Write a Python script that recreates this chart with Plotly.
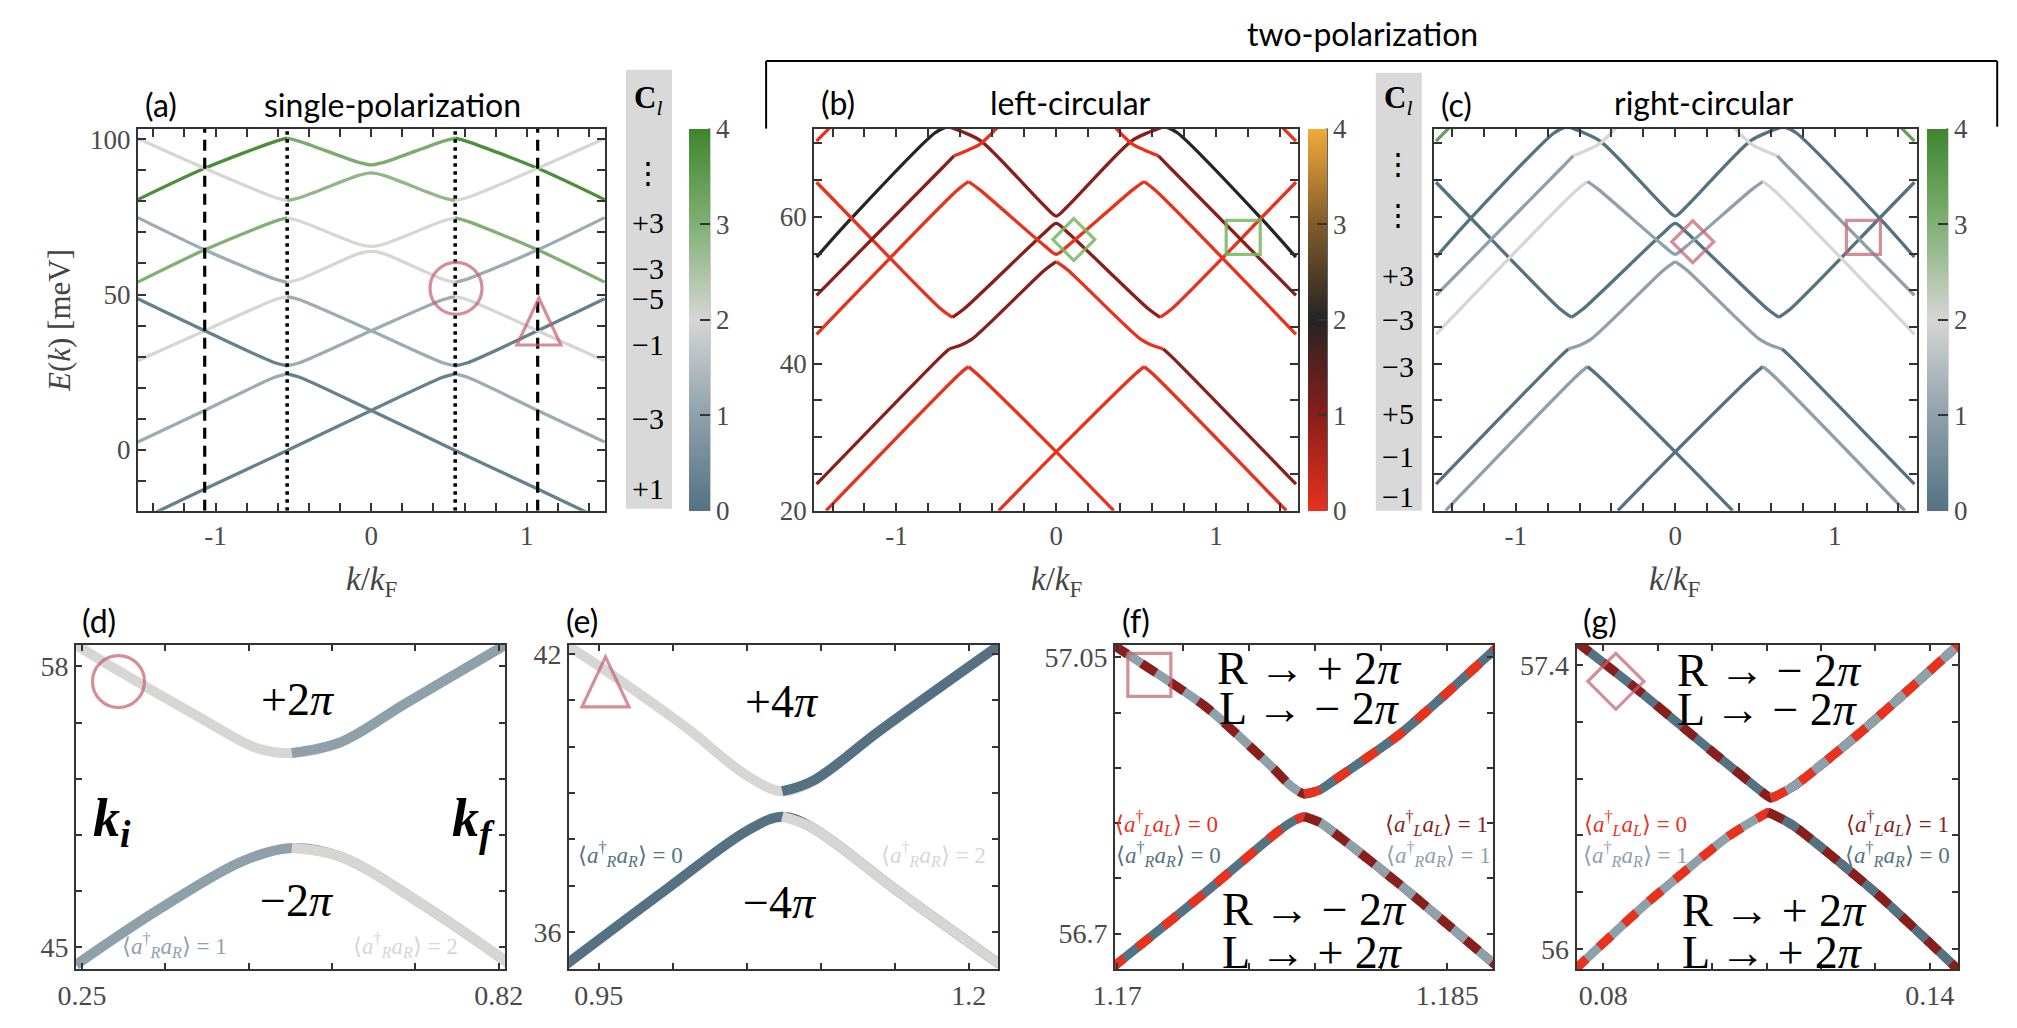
import plotly.graph_objects as go

W, H = 2017, 1028

# ======================= DATA =======================
# (a) single polarization: band segments -> (k/kF nodes, E [meV] nodes, colour value)
A_SEGMENTS = [
    ([-1.5, -1.07, -0.62, -0.54], [80.6, 90.7, 99.3, 100.4], 3.8),
    ([-0.54, -0.46, -0.08, 0, 0.08, 0.46, 0.54], [100.4, 99.4, 92.6, 91.8, 92.6, 99.4, 100.4], 3.1),
    ([0.54, 0.62, 1.07, 1.5], [100.4, 99.3, 90.7, 80.6], 3.8),
    ([-1.5, -1.07, -0.62, -0.54], [100.3, 90.7, 81.3, 80.3], 2.0),
    ([-0.54, -0.46, -0.08, 0, 0.08, 0.46, 0.54], [80.3, 81.2, 88.4, 89.2, 88.4, 81.2, 80.3], 2.8),
    ([0.54, 0.62, 1.07, 1.5], [80.3, 81.3, 90.7, 100.3], 2.0),
    ([-1.5, -1.07, -0.62, -0.54], [54.0, 64.4, 73.6, 74.7], 3.0),
    ([-0.54, -0.46, -0.08, 0, 0.08, 0.46, 0.54], [74.7, 73.7, 66.2, 65.5, 66.2, 73.7, 74.7], 2.0),
    ([0.54, 0.62, 1.07, 1.5], [74.7, 73.6, 64.4, 54.0], 3.0),
    ([-1.5, -1.07, -0.62, -0.54], [74.8, 64.4, 55.0, 53.9], 1.2),
    ([-0.54, -0.46, -0.08, 0, 0.08, 0.46, 0.54], [53.9, 54.9, 63.2, 63.9, 63.2, 54.9, 53.9], 2.0),
    ([0.54, 0.62, 1.07, 1.5], [53.9, 55.0, 64.4, 74.8], 1.2),
    ([-1.5, -1.07, -0.62, -0.54], [28.6, 38.3, 48.3, 49.3], 2.0),
    ([-0.54, -0.46, 0, 0.46, 0.54], [49.3, 48.3, 38.3, 28.0, 27.0], 1.2),
    ([0.54, 0.62, 1.07, 1.5], [27.0, 28.0, 38.3, 48.6], 0.3),
    ([-1.5, -1.07, -0.62, -0.54], [48.6, 38.3, 28.0, 27.0], 0.3),
    ([-0.54, -0.46, 0, 0.46, 0.54], [27.0, 28.0, 38.3, 48.3, 49.3], 1.2),
    ([0.54, 0.62, 1.07, 1.5], [49.3, 48.3, 38.3, 28.6], 2.0),
    ([-1.5, -1.07, -0.62, -0.54], [2.4, 12.6, 23.3, 24.4], 1.2),
    ([-0.54, -0.46, 0, 0.54, 1.07, 1.5], [24.4, 23.3, 12.6, -0.3, -12.7, -23.0], 0.3),
    ([-1.5, -1.07, -0.54, 0, 0.46, 0.54], [-23.0, -12.7, -0.3, 12.6, 23.3, 24.4], 0.3),
    ([0.54, 0.62, 1.07, 1.5], [24.4, 23.3, 12.6, 2.4], 1.2),
]
A_DASHED_K = [-1.07, 1.07]
A_DOTTED_K = [-0.54, 0.54]
A_CIRCLE = (0.545, 52.0)
A_TRIANGLE = (1.078, 41.3)

# (b)/(c) two polarizations: (k nodes, E nodes, <aL+aL> colour, <aR+aR> colour)
BC_SEGMENTS = [
    ([-1.5, -1.29, -0.76, -0.68], [54.5, 59.6, 71.4, 72.3], 2.0, 0.0),
    ([-0.68, -0.58, -0.47, -0.07, 0, 0.07, 0.47, 0.58, 0.68], [72.3, 71.5, 70.3, 61.4, 60.1, 61.4, 70.3, 71.5, 72.3], 1.0, 0.0),
    ([0.68, 0.76, 1.29, 1.5], [72.3, 71.4, 59.6, 54.5], 2.0, 0.0),
    ([-1.5, -1.29, -0.72, -0.65], [64.7, 60.0, 47.4, 46.3], 0.0, 0.0),
    ([-0.65, -0.58, -0.07, 0, 0.07, 0.58, 0.65], [46.3, 47.4, 57.9, 59.1, 57.9, 47.4, 46.3], 1.0, 0.0),
    ([0.65, 0.72, 1.29, 1.5], [46.3, 47.4, 60.0, 64.7], 0.0, 0.0),
    ([-1.5, -0.62, -0.55], [44.0, 63.6, 64.8], 0.0, 2.0),
    ([-0.55, -0.48, -0.07, 0, 0.07, 0.48, 0.55], [64.8, 63.7, 56.0, 54.9, 56.0, 63.7, 64.8], 0.0, 1.0),
    ([0.55, 0.62, 1.5], [64.8, 63.6, 44.0], 0.0, 2.0),
    ([-1.5, -0.73, -0.67], [23.6, 40.8, 42.0], 1.0, 0.0),
    ([-0.67, -0.6, -0.53, -0.07, 0], [42.0, 42.5, 43.3, 52.8, 53.9], 1.0, 1.0),
    ([0, 0.07, 0.53, 0.6, 0.67], [53.9, 52.8, 43.3, 42.5, 42.0], 0.0, 1.0),
    ([0.67, 0.73, 1.5], [42.0, 40.8, 23.6], 1.0, 0.0),
    ([-1.44, -0.61, -0.55], [20.0, 38.5, 39.6], 0.0, 1.0),
    ([-0.55, -0.49, 0, 0.36], [39.6, 38.5, 28.0, 20.0], 0.0, 0.0),
    ([-0.36, 0, 0.49, 0.55], [20.0, 28.0, 38.5, 39.6], 0.0, 0.0),
    ([0.55, 0.61, 1.44], [39.6, 38.5, 20.0], 0.0, 1.0),
    ([-1.5, -0.72, -0.64], [49.3, 66.5, 68.3], 1.0, 1.0),
    ([-0.64, -0.55, -0.47, -0.35], [68.3, 69.1, 70.0, 72.6], 0.0, 2.0),
    ([0.35, 0.47, 0.55, 0.64], [72.6, 70.0, 69.1, 68.3], 0.0, 2.0),
    ([0.64, 0.72, 1.5], [68.3, 66.5, 49.3], 1.0, 1.0),
    ([-1.5, -1.4], [70.3, 72.5], 0.0, 3.4),
    ([1.4, 1.5], [72.5, 70.3], 0.0, 3.4),
]
B_DIAMOND = (0.11, 56.9)
B_SQUARE = (1.17, 57.2)
C_DIAMOND = (0.11, 56.6)
C_SQUARE = (1.18, 57.2)

# (d) zoom of circle: colours (left branch, right branch)
D_UP_K = [0.242, 0.300, 0.403, 0.491, 0.537, 0.604, 0.693, 0.829]
D_UP_E = [59.0, 57.8, 55.8, 54.2, 54.0, 54.5, 56.3, 59.0]
D_UP_C = [2.0, 1.0]
D_LO_K = [0.242, 0.357, 0.470, 0.537, 0.604, 0.715, 0.832]
D_LO_E = [44.2, 46.8, 49.0, 49.6, 49.2, 47.0, 44.3]
D_LO_C = [1.0, 2.0]
D_CIRCLE = (0.300, 57.3)

# (e) zoom of triangle
E_UP_K = [0.928, 0.955, 1.008, 1.051, 1.074, 1.095, 1.140, 1.221]
E_UP_E = [42.2, 41.64, 40.44, 39.36, 39.04, 39.27, 40.35, 42.2]
E_UP_C = [2.0, 0.0]
E_LO_K = [0.928, 0.996, 1.051, 1.074, 1.095, 1.150, 1.221]
E_LO_E = [35.3, 36.93, 38.2, 38.49, 38.24, 36.93, 35.3]
E_LO_C = [0.0, 2.0]
E_TRIANGLE = (0.9546, 41.4)

# (f) zoom of square ((aL, aR) occupations: up-left, up-right, low-left, low-right)
F_UP_K = [1.1698, 1.1740, 1.1770, 1.1779, 1.1785, 1.1792, 1.1799, 1.1829, 1.1872]
F_UP_E = [57.066, 56.988, 56.912, 56.887, 56.877, 56.882, 56.895, 56.954, 57.061]
F_LO_K = [1.1697, 1.1740, 1.1772, 1.1779, 1.1785, 1.1792, 1.1799, 1.1829, 1.1872]
F_LO_E = [56.655, 56.752, 56.827, 56.841, 56.848, 56.841, 56.827, 56.761, 56.660]
F_OCC = [(1, 1), (0, 0), (0, 0), (1, 1)]
F_SQUARE = (1.17146, 57.028)

# (g) zoom of diamond
G_UP_K = [0.0750, 0.0863, 0.1002, 0.1100, 0.1108, 0.1116, 0.1151, 0.1272, 0.1454]
G_UP_E = [57.516, 57.279, 56.969, 56.757, 56.744, 56.752, 56.804, 57.066, 57.502]
G_LO_K = [0.0746, 0.0881, 0.1031, 0.1095, 0.1103, 0.1112, 0.1151, 0.1301, 0.1454]
G_LO_E = [55.893, 56.228, 56.557, 56.662, 56.673, 56.663, 56.605, 56.276, 55.893]
G_OCC = [(1, 0), (0, 1), (0, 1), (1, 0)]
G_DIAMOND = (0.0823, 57.32)

CB_TICKS = [0, 1, 2, 3, 4]
CL_A = ["⋮", "+3", "−3", "−5", "−1", "−3", "+1"]
CL_BC = ["⋮", "⋮", "+3", "−3", "−3", "+5", "−1", "−1"]

# ======================= STYLE =======================
SCALE_R = [(0.0, (84, 114, 130)), (0.25, (142, 161, 171)), (0.5, (214, 214, 212)),
           (0.75, (128, 176, 116)), (1.0, (62, 134, 46))]
SCALE_L = [(0.0, (232, 50, 30)), (0.25, (138, 30, 27)), (0.5, (38, 36, 36)),
           (0.75, (128, 92, 42)), (1.0, (242, 170, 60))]


def rgb_at(scale, v, vmax=4.0):
    t = max(0.0, min(1.0, v / vmax))
    for (t0, c0), (t1, c1) in zip(scale[:-1], scale[1:]):
        if t <= t1:
            f = (t - t0) / (t1 - t0)
            return "rgb(%d,%d,%d)" % tuple(round(a + (b - a) * f) for a, b in zip(c0, c1))
    return "rgb(%d,%d,%d)" % scale[-1][1]


def plotly_scale(scale):
    return [[t, "rgb(%d,%d,%d)" % c] for t, c in scale]


ROSE = "rgba(196,98,110,0.72)"
GREEN = "rgba(118,182,96,0.85)"
AXC = "#333333"
TICKC = "#4a4a4a"
SERIF = "Liberation Serif"
SANS = "Lato"


def px(x):
    return x / W


def py(y):
    return 1 - y / H


fig = go.Figure()


def ref(n):
    return ("x", "y") if n == 1 else ("x%d" % n, "y%d" % n)


def line(n, k, e, color, width, dash=None, shape="spline", smoothing=0.8):
    xr, yr = ref(n)
    ld = dict(color=color, width=width, shape=shape)
    if shape == "spline":
        ld["smoothing"] = smoothing
    if dash:
        ld["dash"] = dash
    fig.add_trace(go.Scatter(x=k, y=e, mode="lines", line=ld, xaxis=xr, yaxis=yr,
                             hoverinfo="skip", showlegend=False))


# ---------- panel (a) ----------
A_YR = [-19.7, 103.5]
for k, e, c in A_SEGMENTS:
    line(1, k, e, rgb_at(SCALE_R, c), 3.3)
for kx in A_DASHED_K:
    line(1, [kx, kx], A_YR, "black", 3.2, dash="11px,7px", shape="linear")
for kx in A_DOTTED_K:
    line(1, [kx, kx], A_YR, "black", 3.6, dash="3.5px,4.5px", shape="linear")

# ---------- panels (b) and (c) ----------
for k, e, cl, cr in BC_SEGMENTS:
    line(2, k, e, rgb_at(SCALE_L, cl), 3.3)
for k, e, cl, cr in BC_SEGMENTS:
    line(3, k, e, rgb_at(SCALE_R, cr), 3.3)


# ---------- panels (d), (e): colour changes at the gap ----------
def extremum_index(es):
    inner = es[1:-1]
    lo, hi = min(inner), max(inner)
    target = lo if es[0] > lo else hi
    return es.index(target)


def graded(n, ks, es, cols, width):
    m = extremum_index(es)
    line(n, ks, es, rgb_at(SCALE_R, cols[0]), width, smoothing=1.0)
    line(n, ks[m:], es[m:], rgb_at(SCALE_R, cols[1]), width, smoothing=1.0)


graded(4, D_UP_K, D_UP_E, D_UP_C, 10)
graded(4, D_LO_K, D_LO_E, D_LO_C, 10)
graded(5, E_UP_K, E_UP_E, E_UP_C, 10)
graded(5, E_LO_K, E_LO_E, E_LO_C, 10)


# ---------- panels (f), (g): two-colour striped branches ----------
def striped(n, ks, es, occ_left, occ_right, width):
    m = extremum_index(es)
    line(n, ks, es, rgb_at(SCALE_R, occ_left[1]), width, smoothing=0.6)
    line(n, ks, es, rgb_at(SCALE_L, occ_left[0]), width, dash="17px,17px", smoothing=0.6)
    line(n, ks[m:], es[m:], rgb_at(SCALE_R, occ_right[1]), width, smoothing=0.6)
    line(n, ks[m:], es[m:], rgb_at(SCALE_L, occ_right[0]), width, dash="17px,17px", smoothing=0.6)


striped(6, F_UP_K, F_UP_E, F_OCC[0], F_OCC[1], 9)
striped(6, F_LO_K, F_LO_E, F_OCC[2], F_OCC[3], 9)
striped(7, G_UP_K, G_UP_E, G_OCC[0], G_OCC[1], 9)
striped(7, G_LO_K, G_LO_E, G_OCC[2], G_OCC[3], 9)


# ---------- colour bars ----------
def colorbar(n, scale, x0, x1):
    xr, yr = ref(n)
    fig.add_trace(go.Scatter(
        x=[None], y=[None], mode="markers", xaxis=xr, yaxis=yr, showlegend=False, hoverinfo="skip",
        marker=dict(color=[0], cmin=0, cmax=4, colorscale=plotly_scale(scale), showscale=True,
                    colorbar=dict(x=px(x0), xanchor="left", y=py(312), yanchor="middle",
                                  len=390 / H, lenmode="fraction", thickness=x1 - x0,
                                  thicknessmode="pixels", xpad=0, ypad=0, outlinewidth=0,
                                  tickvals=CB_TICKS, ticks="inside", ticklen=10, tickwidth=2,
                                  tickcolor=AXC,
                                  tickfont=dict(family=SERIF, size=27, color=TICKC)))))


colorbar(1, SCALE_R, 672, 693)
colorbar(2, SCALE_L, 1304, 1323)
colorbar(3, SCALE_R, 1935, 1956)


# ---------- axes (labelled major ticks + unlabelled minor ticks) ----------
def axes(n, xpx0, xpx1, ypx0, ypx1, xr, yr, xt, xl, yt, yl, tl, fs):
    xr_, yr_ = ref(n)
    common = dict(ticks="inside", ticklen=tl, tickwidth=1.5, tickcolor=AXC, mirror="allticks",
                  showline=True, linecolor=AXC, linewidth=2, showgrid=False, zeroline=False,
                  fixedrange=True, tickfont=dict(family=SERIF, size=fs, color=TICKC))

    def minor(vals):
        return dict(tickmode="array", tickvals=vals, ticks="inside", ticklen=tl,
                    tickwidth=1.5, tickcolor=AXC, showgrid=False)

    xa = dict(domain=[px(xpx0), px(xpx1)], range=xr, tickmode="array",
              tickvals=list(xl.keys()), ticktext=list(xl.values()), minor=minor(xt),
              anchor=yr_, **common)
    if yl:
        ya = dict(domain=[py(ypx1), py(ypx0)], range=yr, tickmode="array",
                  tickvals=list(yl.keys()), ticktext=list(yl.values()), minor=minor(yt),
                  anchor=xr_, **common)
    else:
        ya = dict(domain=[py(ypx1), py(ypx0)], range=yr, tickmode="array",
                  tickvals=yt, showticklabels=False, anchor=xr_, **common)
    kx = "xaxis" if n == 1 else "xaxis%d" % n
    ky = "yaxis" if n == 1 else "yaxis%d" % n
    fig.update_layout(**{kx: xa, ky: ya})


KT = [round(-1.4 + 0.2 * i, 1) for i in range(15)]
KL = {-1.0: "-1", 0.0: "0", 1.0: "1"}
axes(1, 110, 587, 117, 507, [-1.5, 1.505], A_YR, KT, KL,
     list(range(-10, 101, 10)), {0: "0", 50: "50", 100: "100"}, 8, 27)
BT = list(range(20, 71, 5))
axes(2, 800, 1294, 117, 507, [-1.515, 1.515], [20, 72], KT, KL, BT, {20: "20", 40: "40", 60: "60"}, 8, 27)
axes(3, 1432, 1925, 117, 507, [-1.515, 1.515], [20, 72], KT, KL, BT, {}, 8, 27)
axes(4, 47, 485, 644, 975, [0.242, 0.829], [44.0, 59.0],
     [0.25, 0.364, 0.478, 0.592, 0.706, 0.82], {0.25: "0.25", 0.82: "0.82"},
     [45, 47.6, 50.2, 52.8, 55.4, 58], {45: "45", 58: "58"}, 6, 28)
axes(5, 550, 988, 644, 975, [0.930, 1.220], [35.2, 42.2],
     [0.95, 1.0, 1.05, 1.1, 1.15, 1.2], {0.95: "0.95", 1.2: "1.2"},
     [36, 37, 38, 39, 40, 41, 42], {36: "36", 42: "42"}, 6, 28)
axes(6, 1107, 1493, 644, 975, [1.1699, 1.1871], [56.655, 57.066],
     [1.17, 1.173, 1.176, 1.179, 1.182, 1.185], {1.17: "1.17", 1.185: "1.185"},
     [56.7, 56.77, 56.84, 56.91, 56.98, 57.05], {56.7: "56.7", 57.05: "57.05"}, 6, 28)
axes(7, 1578, 1967, 644, 975, [0.0751, 0.1452], [55.90, 57.50],
     [0.08, 0.09, 0.10, 0.11, 0.12, 0.13, 0.14], {0.08: "0.08", 0.14: "0.14"},
     [56.0, 56.28, 56.56, 56.84, 57.12, 57.4], {56.0: "56", 57.4: "57.4"}, 6, 28)

# ---------- shapes ----------
shapes = []


def pshape(n, kind, anchor, path=None, r=None, color=ROSE):
    xr, yr = ref(n)
    d = dict(xref=xr, yref=yr, xsizemode="pixel", ysizemode="pixel",
             xanchor=anchor[0], yanchor=anchor[1], line=dict(color=color, width=3.2),
             fillcolor="rgba(0,0,0,0)", layer="above")
    if kind == "circle":
        d.update(type="circle", x0=-r, x1=r, y0=-r, y1=r)
    else:
        d.update(type="path", path=path)
    shapes.append(d)


def tri(w, h):
    return "M %g,%g L %g,%g L 0,%g Z" % (-w / 2, -h / 2, w / 2, -h / 2, h / 2)


def sq(s):
    return "M %g,%g L %g,%g L %g,%g L %g,%g Z" % (-s, -s, s, -s, s, s, -s, s)


def dia(s):
    return "M 0,%g L %g,0 L 0,%g L %g,0 Z" % (s, s, -s, -s)


pshape(1, "circle", A_CIRCLE, r=26)
pshape(1, "path", A_TRIANGLE, path=tri(44, 47))
pshape(2, "path", B_DIAMOND, path=dia(21), color=GREEN)
pshape(2, "path", B_SQUARE, path=sq(17), color=GREEN)
pshape(3, "path", C_DIAMOND, path=dia(21))
pshape(3, "path", C_SQUARE, path=sq(17))
pshape(4, "circle", D_CIRCLE, r=26)
pshape(5, "path", E_TRIANGLE, path=tri(47, 50))
pshape(6, "path", F_SQUARE, path=sq(21.5))
pshape(7, "path", G_DIAMOND, path=dia(28))

# gray C_l boxes, bracket, colourbar axis lines (paper coordinates)
for x0, x1, y0, y1 in [(608, 655, 57, 505), (1373, 1420, 60, 507)]:
    shapes.append(dict(type="rect", xref="paper", yref="paper", x0=px(x0), x1=px(x1),
                       y0=py(y1), y1=py(y0), fillcolor="#d9d9d9", line=dict(width=0), layer="below"))
for x0, y0, x1, y1 in [(751, 48, 2007, 48), (751, 48, 751, 117), (2007, 48, 2007, 115)]:
    shapes.append(dict(type="line", xref="paper", yref="paper", x0=px(x0), x1=px(x1),
                       y0=py(y0), y1=py(y1), line=dict(color="black", width=2)))
for xc in (693, 1323, 1956):
    shapes.append(dict(type="line", xref="paper", yref="paper", x0=px(xc), x1=px(xc),
                       y0=py(117), y1=py(507), line=dict(color=AXC, width=2)))

# ---------- text ----------
ann = []


def text(s, x, y, size, family=SERIF, color="black", angle=0):
    ann.append(dict(text=s, x=px(x), y=py(y), xref="paper", yref="paper", showarrow=False,
                    xanchor="center", yanchor="middle", textangle=angle,
                    font=dict(family=family, size=size, color=color)))


text("(a)", 134, 92, 32, SANS)
text("single-polarization", 370, 92, 32, SANS)
text("(b)", 824, 90, 32, SANS)
text("left-circular", 1062, 90, 32, SANS)
text("(c)", 1455, 92, 32, SANS)
text("right-circular", 1707, 90, 32, SANS)
text("two-polarization", 1359, 20, 32, SANS)

text("<i>E</i>(<i>k</i>) [meV]", 30, 313, 31, SERIF, "#444", angle=-90)
for xc in (348, 1047, 1678):
    text("<i>k</i>/<i>k</i><sub>F</sub>", xc, 579, 33, SERIF, "#444")

text("<b>C</b><sub><i>l</i></sub>", 631, 88, 31)
for s, yy in zip(CL_A, [162, 213, 260, 290, 337, 413, 484]):
    text(s, 631, yy, 30)
text("<b>C</b><sub><i>l</i></sub>", 1396, 88, 31)
for s, yy in zip(CL_BC, [153, 205, 267, 312, 360, 408, 452, 493]):
    text(s, 1396, yy, 30)

text("(d)", 70, 619, 32, SANS)
text("(e)", 563, 619, 32, SANS)
text("(f)", 1128, 619, 32, SANS)
text("(g)", 1602, 619, 32, SANS)

text("+2<i>π</i>", 273, 700, 46)
text("−2<i>π</i>", 272, 905, 46)
text("<b><i>k<sub>i</sub></i></b>", 84, 824, 54)
text("<b><i>k<sub>f</sub></i></b>", 452, 824, 54)
text("+4<i>π</i>", 767, 702, 46)
text("−4<i>π</i>", 765, 907, 46)

for s, x, y in [("R → + 2<i>π</i>", 1305, 668), ("L → − 2<i>π</i>", 1305, 709),
                ("R → − 2<i>π</i>", 1310, 914), ("L → + 2<i>π</i>", 1308, 958),
                ("R → − 2<i>π</i>", 1775, 670), ("L → − 2<i>π</i>", 1773, 710),
                ("R → + 2<i>π</i>", 1780, 915), ("L → + 2<i>π</i>", 1778, 958)]:
    text(s, x, y, 46)


def occ(pol, v):
    return "⟨<i>a</i><sup>†</sup><sub><i>%s</i></sub><i>a</i><sub><i>%s</i></sub>⟩ = %d" % (pol, pol, v)


cR = lambda v: rgb_at(SCALE_R, v)
cL = lambda v: rgb_at(SCALE_L, v)
text(occ("R", 1), 147, 951, 23, SERIF, cR(1))
text(occ("R", 2), 383, 951, 23, SERIF, cR(2))
text(occ("R", 0), 613, 858, 23, SERIF, cR(0))
text(occ("R", 2), 922, 858, 23, SERIF, cR(2))
text(occ("L", 0), 1160, 826, 23, SERIF, cL(0))
text(occ("R", 0), 1162, 858, 23, SERIF, cR(0))
text(occ("L", 1), 1435, 826, 23, SERIF, cL(1))
text(occ("R", 1), 1437, 858, 23, SERIF, cR(1))
text(occ("L", 0), 1638, 826, 23, SERIF, cL(0))
text(occ("R", 1), 1638, 858, 23, SERIF, cR(1))
text(occ("L", 1), 1905, 826, 23, SERIF, cL(1))
text(occ("R", 0), 1905, 858, 23, SERIF, cR(0))

fig.update_layout(width=W, height=H, margin=dict(l=0, r=0, t=0, b=0),
                  font=dict(family=SERIF, color=TICKC),
                  paper_bgcolor="white", plot_bgcolor="white", showlegend=False,
                  shapes=shapes, annotations=ann)

fig.write_html("out.html")
